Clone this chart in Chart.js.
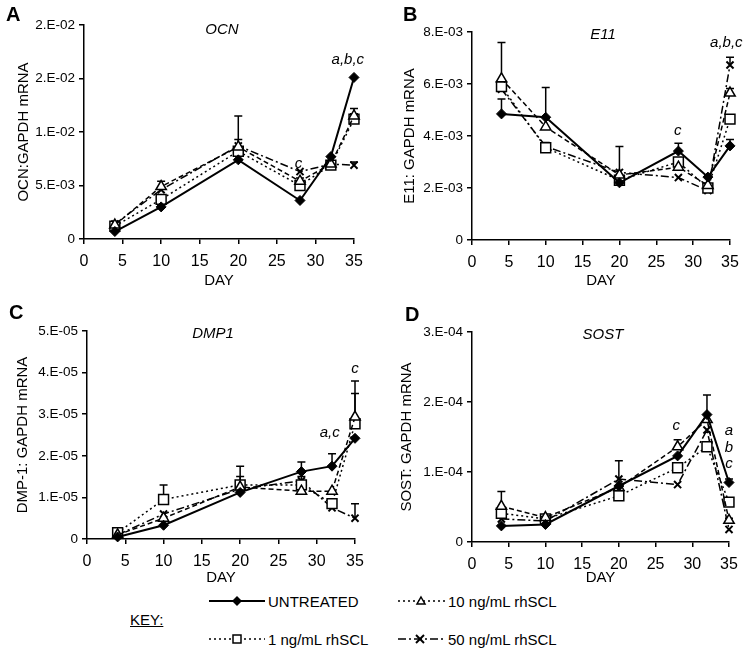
<!DOCTYPE html>
<html>
<head>
<meta charset="utf-8">
<script src="https://cdn.jsdelivr.net/npm/chart.js@4.4.1/dist/chart.umd.min.js"></script>
<style>
  body { margin: 0; background: #fff; width: 753px; height: 652px; position: relative; overflow: hidden;
         font-family: "Liberation Sans", Arial, sans-serif; color: #000; }
  canvas { position: absolute; }
  .txt { position: absolute; white-space: nowrap; line-height: 1; }
  .letter { font-weight: bold; font-size: 20px; }
  .gene { font-style: italic; font-size: 15px; transform: translateX(-50%); }
  .key { font-size: 15px; }
  svg { position: absolute; }
</style>
</head>
<body>
<canvas id="chartA" width="376" height="290" style="left:0;top:0"></canvas>
<canvas id="chartB" width="377" height="290" style="left:376px;top:0"></canvas>
<canvas id="chartC" width="376" height="297" style="left:0;top:290px"></canvas>
<canvas id="chartD" width="377" height="297" style="left:376px;top:290px"></canvas>

<div class="txt letter" style="left:6px;top:4px">A</div>
<div class="txt letter" style="left:403px;top:4px">B</div>
<div class="txt letter" style="left:9px;top:302px">C</div>
<div class="txt letter" style="left:405px;top:304px">D</div>

<div class="txt gene" style="left:222px;top:21px">OCN</div>
<div class="txt gene" style="left:603px;top:26px">E11</div>
<div class="txt gene" style="left:213px;top:325px">DMP1</div>
<div class="txt gene" style="left:603px;top:326px">SOST</div>

<!-- key -->
<div class="txt key" style="left:130px;top:612px;text-decoration:underline">KEY:</div>
<svg style="left:205px;top:591px" width="64" height="20">
  <line x1="4" y1="10" x2="60" y2="10" stroke="#000" stroke-width="2"/>
  <polygon points="32,5 37,10 32,15 27,10" fill="#000"/>
</svg>
<div class="txt key" style="left:268px;top:594px">UNTREATED</div>
<svg style="left:394px;top:591px" width="54" height="20">
  <line x1="4" y1="10" x2="52" y2="10" stroke="#000" stroke-width="1.5" stroke-dasharray="2,3"/>
  <polygon points="27,6 31,13 23,13" fill="#fff" stroke="#000" stroke-width="1.5"/>
</svg>
<div class="txt key" style="left:448px;top:594px">10 ng/mL rhSCL</div>
<svg style="left:205px;top:629px" width="64" height="20">
  <line x1="4" y1="10" x2="60" y2="10" stroke="#000" stroke-width="1.5" stroke-dasharray="2,3"/>
  <rect x="28" y="6" width="8" height="8" fill="#fff" stroke="#000" stroke-width="1.5"/>
</svg>
<div class="txt key" style="left:268px;top:632px">1 ng/mL rhSCL</div>
<svg style="left:394px;top:629px" width="54" height="20">
  <line x1="4" y1="10" x2="52" y2="10" stroke="#000" stroke-width="1.5" stroke-dasharray="8,3,2,3"/>
  <line x1="22" y1="6" x2="30" y2="14" stroke="#000" stroke-width="2"/>
  <line x1="30" y1="6" x2="22" y2="14" stroke="#000" stroke-width="2"/>
</svg>
<div class="txt key" style="left:448px;top:632px">50 ng/mL rhSCL</div>

<script>
// Sampling days (x axis)
const DAYS = [4, 10, 20, 28, 32, 35];

// Panel A - OCN
const OCN_TICKS = ['0', '5.E-03', '1.E-02', '2.E-02', '2.E-02'];
const OCN_UNT = [0.0007, 0.0030, 0.0074, 0.0036, 0.0077, 0.0151];
const OCN_10 = [0.0013, 0.0049, 0.0086, 0.0054, 0.0070, 0.0115];
const OCN_1 = [0.0012, 0.0037, 0.0082, 0.0050, 0.0069, 0.0112];
const OCN_50 = [0.0014, 0.0046, 0.0087, 0.0063, 0.0070, 0.0069];
const OCN_UNT_ERR = [null, null, null, null, null, null];
const OCN_10_ERR = [null, 0.0005, 0.0007, 0.0003, null, 0.0007];
const OCN_1_ERR = [null, null, null, null, null, 0.0005];
const OCN_50_ERR = [null, null, 0.0028, null, null, 0.0003];
const OCN_NOTES = [[27.8, 0.0070, 'c'], [34.2, 0.0167, 'a,b,c']];

// Panel B - E11
const E11_TICKS = ['0', '2.E-03', '4.E-03', '6.E-03', '8.E-03'];
const E11_UNT = [0.00485, 0.00472, 0.00220, 0.00342, 0.00242, 0.00362];
const E11_10 = [0.00620, 0.00435, 0.00250, 0.00280, 0.00210, 0.00565];
const E11_1 = [0.00590, 0.00355, 0.00230, 0.00300, 0.00200, 0.00465];
const E11_50 = [0.00580, 0.00360, 0.00260, 0.00240, 0.00190, 0.00673];
const E11_UNT_ERR = [0.00057, 0.00115, null, 0.00030, null, 0.00025];
const E11_10_ERR = [0.00140, null, 0.00110, null, null, 0.00018];
const E11_1_ERR = [null, 0.00020, null, 0.00010, null, null];
const E11_50_ERR = [null, null, null, null, null, 0.00030];
const E11_NOTES = [[27.9, 0.0042, 'c'], [34.5, 0.0076, 'a,b,c']];

// Panel C - DMP1
const DMP1_TICKS = ['0', '1.E-05', '2.E-05', '3.E-05', '4.E-05', '5.E-05'];
const DMP1_UNT = [0.05e-5, 0.33e-5, 1.12e-5, 1.62e-5, 1.75e-5, 2.42e-5];
const DMP1_10 = [0.10e-5, 0.50e-5, 1.25e-5, 1.15e-5, 1.15e-5, 2.93e-5];
const DMP1_1 = [0.15e-5, 0.95e-5, 1.30e-5, 1.30e-5, 0.85e-5, 2.77e-5];
const DMP1_50 = [0.10e-5, 0.60e-5, 1.20e-5, 1.40e-5, 0.75e-5, 0.50e-5];
const DMP1_UNT_ERR = [null, null, null, 0.23e-5, 0.30e-5, null];
const DMP1_10_ERR = [null, null, 0.50e-5, 0.35e-5, null, 0.87e-5];
const DMP1_1_ERR = [null, 0.35e-5, 0.20e-5, null, null, 0.73e-5];
const DMP1_50_ERR = [null, null, null, null, null, 0.35e-5];
const DMP1_NOTES = [[31.7, 2.55e-5, 'a,c'], [35, 4.08e-5, 'c']];

// Panel D - SOST
const SOST_TICKS = ['0', '1.E-04', '2.E-04', '3.E-04'];
const SOST_UNT = [0.23e-4, 0.25e-4, 0.80e-4, 1.23e-4, 1.82e-4, 0.85e-4];
const SOST_10 = [0.51e-4, 0.35e-4, 0.78e-4, 1.36e-4, 1.75e-4, 0.31e-4];
const SOST_1 = [0.41e-4, 0.33e-4, 0.66e-4, 1.06e-4, 1.36e-4, 0.57e-4];
const SOST_50 = [0.33e-4, 0.30e-4, 0.90e-4, 0.82e-4, 1.60e-4, 0.18e-4];
const SOST_UNT_ERR = [null, null, null, null, 0.28e-4, 0.05e-4];
const SOST_10_ERR = [0.21e-4, null, null, 0.10e-4, null, 0.03e-4];
const SOST_1_ERR = [null, null, null, null, null, null];
const SOST_50_ERR = [null, null, 0.26e-4, null, null, null];
const SOST_NOTES = [[27.8, 1.66e-4, 'c'], [35, 1.59e-4, 'a'], [35, 1.35e-4, 'b'], [35, 1.11e-4, 'c']];

// one-sided error bars (mean -> mean + SD) drawn under the markers
const errorBars = {
    id: 'errorBars',
    beforeDatasetsDraw(chart) {
        const ctx = chart.ctx;
        const xs = chart.scales.x, ys = chart.scales.y;
        ctx.save();
        ctx.strokeStyle = '#000';
        ctx.lineWidth = 1.5;
        chart.data.datasets.forEach(ds => {
            (ds.errors || []).forEach((e, i) => {
                if (e == null) return;
                const px = xs.getPixelForValue(ds.data[i].x);
                const y0 = ys.getPixelForValue(ds.data[i].y);
                const y1 = ys.getPixelForValue(ds.data[i].y + e);
                ctx.beginPath();
                ctx.moveTo(px, y0); ctx.lineTo(px, y1);
                ctx.moveTo(px - 4, y1); ctx.lineTo(px + 4, y1);
                ctx.stroke();
            });
        });
        ctx.restore();
    }
};

// significance letters
const notes = {
    id: 'notes',
    afterDatasetsDraw(chart, args, opts) {
        const ctx = chart.ctx;
        ctx.save();
        ctx.font = 'italic 15px "Liberation Sans", Arial, sans-serif';
        ctx.fillStyle = '#000';
        ctx.textAlign = 'center';
        ctx.textBaseline = 'middle';
        (opts.items || []).forEach(([x, y, t]) => {
            ctx.fillText(t, chart.scales.x.getPixelForValue(x), chart.scales.y.getPixelForValue(y));
        });
        ctx.restore();
    }
};

const styles = {
    unt: { borderColor: '#000', pointBackgroundColor: '#000', pointBorderColor: '#000', borderWidth: 2,
           pointStyle: 'rectRot', pointRadius: 5, pointBorderWidth: 1 },
    ten: { borderColor: '#000', pointBackgroundColor: '#fff', pointBorderColor: '#000', borderWidth: 1.5,
           borderDash: [5, 3], pointStyle: 'triangle', pointRadius: 6, pointBorderWidth: 1.5 },
    one: { borderColor: '#000', pointBackgroundColor: '#fff', pointBorderColor: '#000', borderWidth: 1.5,
           borderDash: [2, 3], pointStyle: 'rect', pointRadius: 7, pointBorderWidth: 1.5 },
    fifty: { borderColor: '#000', pointBackgroundColor: '#000', pointBorderColor: '#000', borderWidth: 1.5,
             borderDash: [8, 3, 2, 3], pointStyle: 'crossRot', pointRadius: 5, pointBorderWidth: 2 }
};

function series(label, vals, errs, style) {
    return Object.assign({
        label: label,
        data: DAYS.map((d, i) => ({ x: d, y: vals[i] })),
        errors: errs,
        showLine: true,
        clip: false,
        tension: 0
    }, style);
}

function panel(id, p) {
    new Chart(document.getElementById(id), {
        type: 'scatter',
        data: {
            datasets: [
                series('UNTREATED', p.unt, p.untErr, styles.unt),
                series('10 ng/mL rhSCL', p.ten, p.tenErr, styles.ten),
                series('1 ng/mL rhSCL', p.one, p.oneErr, styles.one),
                series('50 ng/mL rhSCL', p.fifty, p.fiftyErr, styles.fifty)
            ]
        },
        options: {
            responsive: false,
            animation: false,
            layout: { padding: { left: 0, right: p.padRight, top: p.padTop, bottom: 0 } },
            plugins: { legend: { display: false }, tooltip: { enabled: false }, notes: { items: p.notes } },
            scales: {
                x: {
                    type: 'linear', min: 0, max: 35,
                    ticks: { stepSize: 5, color: '#000', font: { size: 16 }, padding: 8, maxRotation: 0 },
                    grid: { drawOnChartArea: false, color: '#000', lineWidth: 1.5, tickLength: 5 },
                    border: { color: '#000', width: 1.5 },
                    title: { display: true, text: 'DAY', color: '#000', font: { size: 15 }, padding: 0 },
                    afterFit: s => { s.height = p.xHeight; }
                },
                y: {
                    min: 0, max: p.yMax,
                    ticks: { stepSize: p.yStep, color: '#000', font: { size: 13.5 }, padding: 4,
                             callback: (v, i) => p.tickLabels[i] },
                    grid: { drawOnChartArea: false, color: '#000', lineWidth: 1.5, tickLength: 5 },
                    border: { color: '#000', width: 1.5 },
                    title: { display: true, text: p.yTitle, color: '#000', font: { size: 15 }, padding: { top: p.titlePad, bottom: 0 } },
                    afterFit: s => { s.width = p.yWidth; }
                }
            }
        },
        plugins: [errorBars, notes]
    });
}

panel('chartA', {
    unt: OCN_UNT, ten: OCN_10, one: OCN_1, fifty: OCN_50,
    untErr: OCN_UNT_ERR, tenErr: OCN_10_ERR, oneErr: OCN_1_ERR, fiftyErr: OCN_50_ERR,
    yMax: 0.02, yStep: 0.005, tickLabels: OCN_TICKS, yTitle: 'OCN:GAPDH mRNA', notes: OCN_NOTES,
    padTop: 25, padRight: 22, yWidth: 84, xHeight: 51, titlePad: 15
});
panel('chartB', {
    unt: E11_UNT, ten: E11_10, one: E11_1, fifty: E11_50,
    untErr: E11_UNT_ERR, tenErr: E11_10_ERR, oneErr: E11_1_ERR, fiftyErr: E11_50_ERR,
    yMax: 0.008, yStep: 0.002, tickLabels: E11_TICKS, yTitle: 'E11: GAPDH mRNA', notes: E11_NOTES,
    padTop: 32, padRight: 23, yWidth: 96, xHeight: 50, titlePad: 25
});
panel('chartC', {
    unt: DMP1_UNT, ten: DMP1_10, one: DMP1_1, fifty: DMP1_50,
    untErr: DMP1_UNT_ERR, tenErr: DMP1_10_ERR, oneErr: DMP1_1_ERR, fiftyErr: DMP1_50_ERR,
    yMax: 5e-5, yStep: 1e-5, tickLabels: DMP1_TICKS, yTitle: 'DMP-1: GAPDH mRNA', notes: DMP1_NOTES,
    padTop: 41, padRight: 21, yWidth: 87, xHeight: 48, titlePad: 14
});
panel('chartD', {
    unt: SOST_UNT, ten: SOST_10, one: SOST_1, fifty: SOST_50,
    untErr: SOST_UNT_ERR, tenErr: SOST_10_ERR, oneErr: SOST_1_ERR, fiftyErr: SOST_50_ERR,
    yMax: 3e-4, yStep: 1e-4, tickLabels: SOST_TICKS, yTitle: 'SOST: GAPDH mRNA', notes: SOST_NOTES,
    padTop: 42, padRight: 24, yWidth: 96, xHeight: 45, titlePad: 22
});
</script>
</body>
</html>
